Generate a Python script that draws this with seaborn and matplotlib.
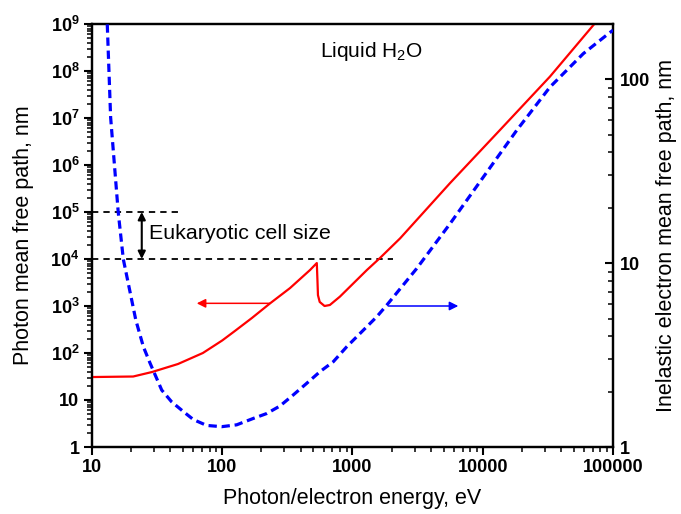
import numpy as np
import pandas as pd
import matplotlib
matplotlib.use("Agg")
import matplotlib.pyplot as plt
import seaborn as sns
from matplotlib.ticker import LogLocator, NullFormatter

# ---- data ----
energy_photon = [10, 20.7, 28.9, 45.7, 71, 100, 125, 169, 233, 331, 472, 532, 538,
                 543, 560, 610, 670, 800, 1290, 1625, 2320, 5600, 13600, 32800, 75000]
mfp_photon = [30.8, 31.6, 39.4, 58.3, 100, 185, 294, 556, 1140, 2400, 5830, 8200, 3600,
              1700, 1220, 1000, 1050, 1580, 5830, 10500, 27500, 4.1e5, 5.6e6, 7.6e7, 1.15e9]

energy_electron = [13.1, 13.9, 15.9, 17.4, 21.7, 24.8, 27.9, 34.3, 40.9, 50.2, 60.0, 76.0,
                   99.1, 129, 173, 219, 277, 351, 445, 563, 712, 903, 1211, 1535, 1832,
                   3113, 5611, 10100, 18230, 32830, 59150, 92050, 100000]
imfp_electron = [199, 62.1, 18.9, 10.5, 4.90, 3.51, 2.86, 2.04, 1.76, 1.56, 1.41, 1.31,
                 1.29, 1.32, 1.43, 1.52, 1.67, 1.92, 2.22, 2.57, 2.91, 3.51, 4.32, 5.11, 5.91,
                 9.36, 16.4, 29.4, 52.8, 90.8, 138, 177, 185]

x_ticks = [10, 100, 1000, 10000, 100000]
x_tick_labels = ["10", "100", "1000", "10000", "100000"]
left_ticks = [1, 10, 1e2, 1e3, 1e4, 1e5, 1e6, 1e7, 1e8, 1e9]
left_tick_labels = ["1", "10"] + [r"$\mathbf{10^{%d}}$" % k for k in range(2, 10)]
right_ticks = [1, 10, 100]
right_tick_labels = ["1", "10", "100"]

cell_size_bounds = [1e4, 1e5]

# ---- style ----
sns.set_theme(style="ticks")
plt.rcParams["font.family"] = ["Liberation Sans", "DejaVu Sans"]
plt.rcParams["mathtext.fontset"] = "custom"
plt.rcParams["mathtext.rm"] = "Liberation Sans"
plt.rcParams["mathtext.it"] = "Liberation Sans:italic"
plt.rcParams["mathtext.bf"] = "Liberation Sans:bold"
for key in ["text.color", "axes.labelcolor", "xtick.color", "ytick.color", "axes.edgecolor"]:
    plt.rcParams[key] = "black"

TICK_FS = 13
LABEL_FS = 15.5

fig = plt.figure(figsize=(6.81, 5.14), dpi=100)
ax = fig.add_axes([92 / 681, 1 - 447 / 514, 521 / 681, 423 / 514])
ax2 = ax.twinx()

df_ph = pd.DataFrame({"E": energy_photon, "mfp": mfp_photon})
df_el = pd.DataFrame({"E": energy_electron, "imfp": imfp_electron})

sns.lineplot(data=df_ph, x="E", y="mfp", ax=ax, color="#ff0000", linewidth=1.6,
             estimator=None, sort=False, zorder=3)
sns.lineplot(data=df_el, x="E", y="imfp", ax=ax2, color="#0000ff", linewidth=2.3,
             estimator=None, sort=False, zorder=3)
ax2.lines[0].set_dashes([2.6, 1.5])

ax.set_xscale("log")
ax.set_yscale("log")
ax2.set_yscale("log")
ax.set_xlim(10, 1e5)
ax.set_ylim(1, 1e9)
ax2.set_ylim(1, 200)

# ticks
ax.set_xticks(x_ticks)
ax.set_xticklabels(x_tick_labels, fontweight="bold", fontsize=TICK_FS)
ax.xaxis.set_minor_locator(LogLocator(base=10, subs=np.arange(2, 10), numticks=20))
ax.xaxis.set_minor_formatter(NullFormatter())
ax.set_yticks(left_ticks)
ax.set_yticklabels(left_tick_labels, fontweight="bold", fontsize=TICK_FS)
ax.yaxis.set_minor_locator(LogLocator(base=10, subs=np.arange(2, 10), numticks=20))
ax.yaxis.set_minor_formatter(NullFormatter())
ax2.set_yticks(right_ticks)
ax2.set_yticklabels(right_tick_labels, fontweight="bold", fontsize=TICK_FS)
ax2.yaxis.set_minor_locator(LogLocator(base=10, subs=np.arange(2, 10), numticks=20))
ax2.yaxis.set_minor_formatter(NullFormatter())

ax.tick_params(axis="both", which="major", direction="out", length=6, width=1.5,
               colors="black", pad=3)
ax.tick_params(axis="both", which="minor", direction="out", length=3.5, width=1.1,
               colors="black")
ax.tick_params(axis="x", top=False, which="both")
ax2.tick_params(axis="y", which="major", direction="in", length=6, width=1.5, pad=5,
                colors="black")
ax2.tick_params(axis="y", which="minor", direction="in", length=3.5, width=1.1,
                colors="black")

for a in (ax, ax2):
    for s in a.spines.values():
        s.set_linewidth(1.6)
        s.set_color("black")
        s.set_visible(True)

ax.set_xlabel("Photon/electron energy, eV", fontsize=LABEL_FS, color="black")
ax.set_ylabel("Photon mean free path, nm", fontsize=LABEL_FS, color="black")
ax2.set_ylabel("Inelastic electron mean free path, nm", fontsize=LABEL_FS, color="black")
ax.xaxis.set_label_coords(0.5, -0.098)
ax.yaxis.set_label_coords(-0.111, 0.5)
ax2.yaxis.set_label_coords(1.082, 0.5)

# annotations
ax.plot([10, 47.5], [cell_size_bounds[1]] * 2, color="black", lw=1.3,
        dashes=[3.5, 2.8], zorder=2)
ax.plot([10, 2050], [cell_size_bounds[0]] * 2, color="black", lw=1.3,
        dashes=[3.5, 2.8], zorder=2)
ax.annotate("", xy=(24.1, cell_size_bounds[1]), xytext=(24.1, cell_size_bounds[0]),
            arrowprops=dict(arrowstyle="<|-|>", color="black", lw=1.5,
                            mutation_scale=11, shrinkA=0, shrinkB=0))
ax.text(27.6, 35700, "Eukaryotic cell size", fontsize=15.4, ha="left", va="center",
        color="black")
ax.text(563, 10 ** 8.41, r"Liquid H$_2$O", fontsize=15, ha="left", va="center",
        color="black")

ax.annotate("", xy=(63.7, 1140), xytext=(233, 1140),
            arrowprops=dict(arrowstyle="-|>", color="#ff0000", lw=1.1,
                            mutation_scale=13, shrinkA=0, shrinkB=0))
ax.annotate("", xy=(6490, 1000), xytext=(1884, 1000),
            arrowprops=dict(arrowstyle="-|>", color="#0000ff", lw=1.1,
                            mutation_scale=13, shrinkA=0, shrinkB=0))

fig.savefig("out.png", dpi=100)
